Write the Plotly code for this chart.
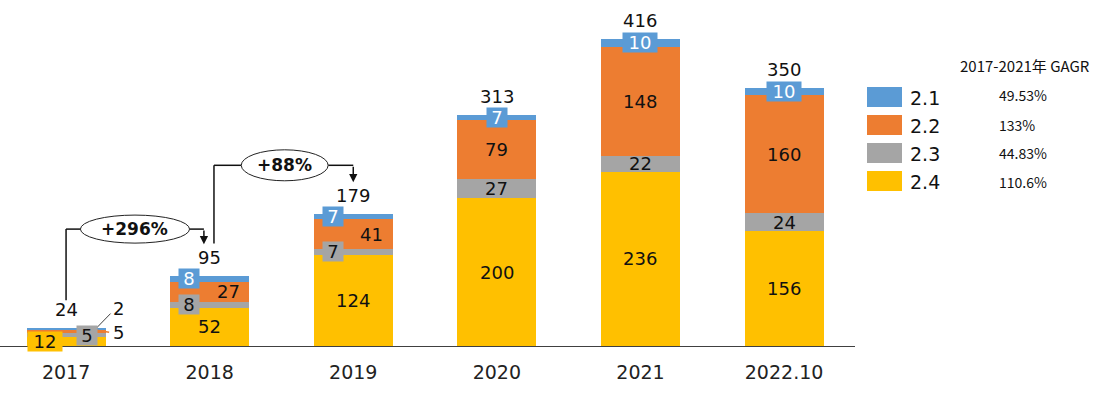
import plotly.graph_objects as go

# ---------------- data ----------------
categories = ["2017", "2018", "2019", "2020", "2021", "2022.10"]
s21 = [2, 8, 7, 7, 10, 10]
s22 = [5, 27, 41, 79, 148, 160]
s23 = [5, 8, 7, 27, 22, 24]
s24 = [12, 52, 124, 200, 236, 156]
series_names = ["2.1", "2.2", "2.3", "2.4"]
gagr = ["49.53%", "133%", "44.83%", "110.6%"]
gagr_title = "2017-2021年 GAGR"
growth_labels = ["+296%", "+88%"]

# ---------------- styles ----------------
C = {"2.1": "#5B9BD5", "2.2": "#ED7D31", "2.3": "#A5A5A5", "2.4": "#FFC000"}
NUMFONT = "DejaVu Sans"
FS = 18
TXT = "#111111"
BARW = 0.55

totals = [a + b + c + d for a, b, c, d in zip(s21, s22, s23, s24)]
xs = list(range(len(categories)))

fig = go.Figure()
stack = [("2.4", s24), ("2.3", s23), ("2.2", s22), ("2.1", s21)]
for name, vals in stack:
    fig.add_trace(go.Bar(x=xs, y=vals, name=name, width=BARW,
                         marker=dict(color=C[name], line=dict(width=0)),
                         showlegend=False, hoverinfo="skip"))

# segment label style: (xshift px, boxed?) per series per bar; None = handled separately
lab_style = {
    "2.4": [(-21, True), (0, False), (0, False), (0, False), (0, False), (0, False)],
    "2.3": [(21, True), (-21, True), (-20, True), (0, False), (0, False), (0, False)],
    "2.2": [None, (19, False), (18, False), (0, False), (0, False), (0, False)],
    "2.1": [None, (-21, True), (-20, True), (0, True), (0, True), (0, True)],
}
vals_by = {"2.1": s21, "2.2": s22, "2.3": s23, "2.4": s24}
order = ["2.4", "2.3", "2.2", "2.1"]

ann = []
for i in xs:
    base = 0
    for name in order:
        v = vals_by[name][i]
        center = base + v / 2
        base += v
        st = lab_style[name][i]
        if st is None:
            continue
        xsh, boxed = st
        a = dict(x=i, y=center, xref="x", yref="y", text=str(v), showarrow=False,
                 xshift=xsh, font=dict(family=NUMFONT, size=FS,
                                       color="white" if name == "2.1" else TXT))
        if boxed:
            w = 20 if v < 10 else 34
            a.update(bgcolor=C[name], width=w, height=19, borderpad=0)
        ann.append(a)
    # totals
    ann.append(dict(x=i, y=totals[i], xref="x", yref="y", text=str(totals[i]),
                    showarrow=False, yanchor="bottom", yshift=6,
                    font=dict(family=NUMFONT, size=FS, color=TXT)))

# 2017 small segments with leader lines (external labels)
top21 = s24[0] + s23[0] + s22[0] + s21[0] / 2
mid22 = s24[0] + s23[0] + s22[0] / 2
ann.append(dict(x=0, y=top21, xref="x", yref="y", text=str(s21[0]), showarrow=False,
                xshift=52, yshift=21, font=dict(family=NUMFONT, size=FS, color=TXT)))
ann.append(dict(x=0, y=mid22, xref="x", yref="y", text=str(s22[0]), showarrow=False,
                xshift=52, yshift=-1, font=dict(family=NUMFONT, size=FS, color=TXT)))

shapes = []
shapes.append(dict(type="line", xref="x", yref="y", x0=0.21, x1=0.31,
                   y0=top21 + 1, y1=top21 + 21, line=dict(color="#404040", width=1)))
shapes.append(dict(type="line", xref="x", yref="y", x0=0.215, x1=0.30,
                   y0=mid22 + 2, y1=mid22 - 1, line=dict(color=C["2.2"], width=1.5)))

LC = "#111111"


def bracket(i0, label, y_low, y_level, x_start, ell_x0, ell_x1, ell_h, x_tip, y_tip):
    shapes.append(dict(type="line", xref="x", yref="y", x0=x_start, x1=x_start,
                       y0=y_low, y1=y_level, line=dict(color=LC, width=1.5)))
    shapes.append(dict(type="line", xref="x", yref="y", x0=x_start, x1=ell_x0,
                       y0=y_level, y1=y_level, line=dict(color=LC, width=1.5)))
    shapes.append(dict(type="line", xref="x", yref="y", x0=ell_x1, x1=x_tip,
                       y0=y_level, y1=y_level, line=dict(color=LC, width=1.5)))
    shapes.append(dict(type="circle", xref="x", yref="y", x0=ell_x0, x1=ell_x1,
                       y0=y_level - ell_h / 2, y1=y_level + ell_h / 2,
                       line=dict(color="#222222", width=1), fillcolor="white", layer="above"))
    ann.append(dict(x=(ell_x0 + ell_x1) / 2, y=y_level, xref="x", yref="y",
                    text="<b>" + label + "</b>", showarrow=False,
                    font=dict(family=NUMFONT, size=17, color=TXT)))
    ann.append(dict(x=x_tip, y=y_tip, xref="x", yref="y", ax=x_tip, ay=y_level,
                    axref="x", ayref="y", text="", showarrow=True, arrowhead=2,
                    arrowsize=1.1, arrowwidth=1.5, arrowcolor=LC, standoff=0))


bracket(0, growth_labels[0], totals[0] + 38, 158.5, 0.0, 0.10, 0.86, 38, 0.96, totals[1] + 43)
bracket(1, growth_labels[1], totals[1] + 44, 245, 1.03, 1.22, 1.825, 42, 2.0, totals[2] + 43)

# ---------------- custom legend (paper coords) ----------------
PLOT_W = 855.0
T, B, H = 20, 48, 394
PLOT_H = H - T - B


def px(x):
    return x / PLOT_W


def py(y):
    return (H - B - y) / PLOT_H


leg_top = [87, 115, 143, 171]
gagr_y = [95, 125, 153, 182]
for k, name in enumerate(series_names):
    shapes.append(dict(type="rect", xref="paper", yref="paper",
                       x0=px(867), x1=px(902), y0=py(leg_top[k] + 20), y1=py(leg_top[k]),
                       fillcolor=C[name], line=dict(width=0)))
    ann.append(dict(x=px(908), y=py(leg_top[k] + 11), xref="paper", yref="paper", text=name,
                    showarrow=False, xanchor="left", yanchor="middle",
                    font=dict(family=NUMFONT, size=19, color=TXT)))
    ann.append(dict(x=px(997), y=py(gagr_y[k]), xref="paper", yref="paper", text=gagr[k],
                    showarrow=False, xanchor="left", yanchor="middle",
                    font=dict(family="Noto Sans CJK SC", size=14, color=TXT)))
ann.append(dict(x=px(958), y=py(65), xref="paper", yref="paper", text=gagr_title,
                showarrow=False, xanchor="left", yanchor="middle",
                font=dict(family="Noto Sans CJK SC", size=15, color=TXT)))

fig.update_layout(
    width=1108, height=394,
    margin=dict(l=0, r=253, t=T, b=B),
    barmode="stack",
    paper_bgcolor="white", plot_bgcolor="white",
    xaxis=dict(range=[-0.46, 5.494], tickmode="array", tickvals=xs, ticktext=categories,
               showline=True, linecolor="#404040", linewidth=1, showgrid=False,
               zeroline=False, ticks="", ticklabelstandoff=9,
               tickfont=dict(family=NUMFONT, size=19, color="#222222"),
               fixedrange=True),
    yaxis=dict(range=[0, 442], visible=False, fixedrange=True),
    annotations=ann,
    shapes=shapes,
)

fig.write_html("out.html", config={"displayModeBar": False},
               post_script="document.body.style.margin='0';document.body.style.overflow='hidden';")
